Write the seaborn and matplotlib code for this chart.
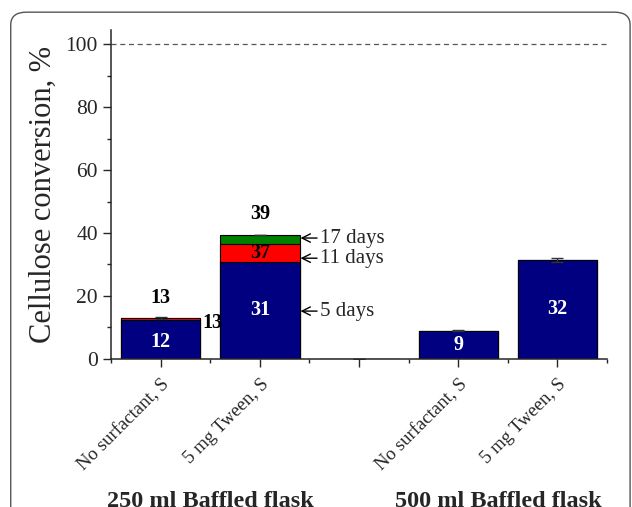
import matplotlib
matplotlib.use("Agg")
import matplotlib.pyplot as plt
import pandas as pd
import seaborn as sns
from matplotlib.patches import FancyBboxPatch

# categories (the blank slot separates the two flask sizes)
keys = ["250_none", "250_tween", "gap", "500_none", "500_tween"]
tick_labels = ["No surfactant, S", "5 mg Tween, S", "", "No surfactant, S", "5 mg Tween, S"]
group_labels = ["250 ml Baffled flask", "500 ml Baffled flask"]

# conversion (%) after 5, 11 and 17 days (cumulative)
day5 = [12.3, 30.8, 0, 9.0, 31.5]
day11 = [12.9, 36.5, 0, 9.0, 31.5]
day17 = [13.0, 39.4, 0, 9.0, 31.5]
err = [0.3, 0.0, 0, 0.2, 0.7]

# printed values
lbl5 = ["12", "31", "", "9", "32"]
lbl11 = ["", "37", "", "", ""]
lbl17 = ["13", "39", "", "", ""]
day_notes = ["5 days", "11 days", "17 days"]
note_y = [15.2, 32.0, 38.4]

df = pd.DataFrame({"key": keys, "d5": day5, "d11": day11, "d17": day17, "err": err})

sns.set_style("ticks")
plt.rcParams["font.family"] = ["Liberation Serif", "DejaVu Serif"]

fig = plt.figure(figsize=(6.32, 5.07), dpi=100)
fig.patches.append(FancyBboxPatch((0.017, -0.05), 0.98, 1.026, boxstyle="round,pad=0,rounding_size=0.025",
                                  transform=fig.transFigure, facecolor="none", edgecolor="#555555",
                                  linewidth=1.0, figure=fig))
ax = fig.add_axes([0.1756, 0.292, 0.785, 0.649])

for col, color in [("d17", "#008000"), ("d11", "#ff0000"), ("d5", "#000080")]:
    sns.barplot(data=df, x="key", y=col, order=keys, color=color, width=0.8,
                edgecolor="black", linewidth=0.8, saturation=1, errorbar=None, ax=ax)

ax.errorbar(range(len(keys)), df["d17"], yerr=df["err"], fmt="none", ecolor="#333333",
            elinewidth=1.0, capsize=4, capthick=1.0)

ax.axhline(100, color="#555555", linestyle=(0, (4, 3)), linewidth=0.9)

ax.set_xlim(-0.5, 4.5)
ax.set_ylim(0, 104.5)
ax.set_yticks([0, 20, 40, 60, 80, 100])
ax.set_yticks(range(10, 100, 20), minor=True)
ax.set_xticks(range(len(keys)))
ax.set_xticks([x + 0.5 for x in range(-1, len(keys))], minor=True)
ax.set_xticklabels(tick_labels, rotation=45, ha="right", rotation_mode="anchor", fontsize=13.5)
ax.tick_params(axis="y", labelsize=15.5, length=6, width=1)
ax.tick_params(axis="x", length=6, width=1, pad=6)
ax.tick_params(which="minor", length=3, width=1)
ax.set_xlabel("")
ax.set_ylabel("Cellulose conversion, %", fontsize=22)
ax.yaxis.set_label_coords(-0.107, 0.5)
sns.despine(ax=ax, top=True, right=True)
for s in ["left", "bottom"]:
    ax.spines[s].set_linewidth(1.1)

bold = dict(fontweight="bold", fontsize=14.5, ha="center", va="center")
for i, k in enumerate(keys):
    if lbl5[i]:
        ax.text(i, day5[i] / 2 if i != 0 else 5.5, lbl5[i], color="white", **bold)
    if lbl11[i]:
        ax.text(i, (day5[i] + day11[i]) / 2, lbl11[i], color="black", **bold)
    if lbl17[i]:
        ax.text(i, day17[i] + 6.5, lbl17[i], color="black", **bold)
# value beside the first bar
ax.text(0.42, day17[0] - 1.5, lbl17[0], color="black", ha="left", va="center", fontweight="bold", fontsize=14.5)

# day arrows next to the Tween bar
for y, note in zip(note_y, day_notes):
    ax.annotate(note, xy=(1.41, y), xytext=(1.61, y), fontsize=15, va="center", ha="left",
                arrowprops=dict(arrowstyle="->", color="black", lw=1.0, shrinkA=0, shrinkB=0))

for xc, g in zip([0.5, 3.4], group_labels):
    ax.text(xc, -0.40, g, transform=ax.get_xaxis_transform(), ha="center", va="top",
            fontsize=17.5, fontweight="bold")

fig.savefig("out.png", dpi=100)
